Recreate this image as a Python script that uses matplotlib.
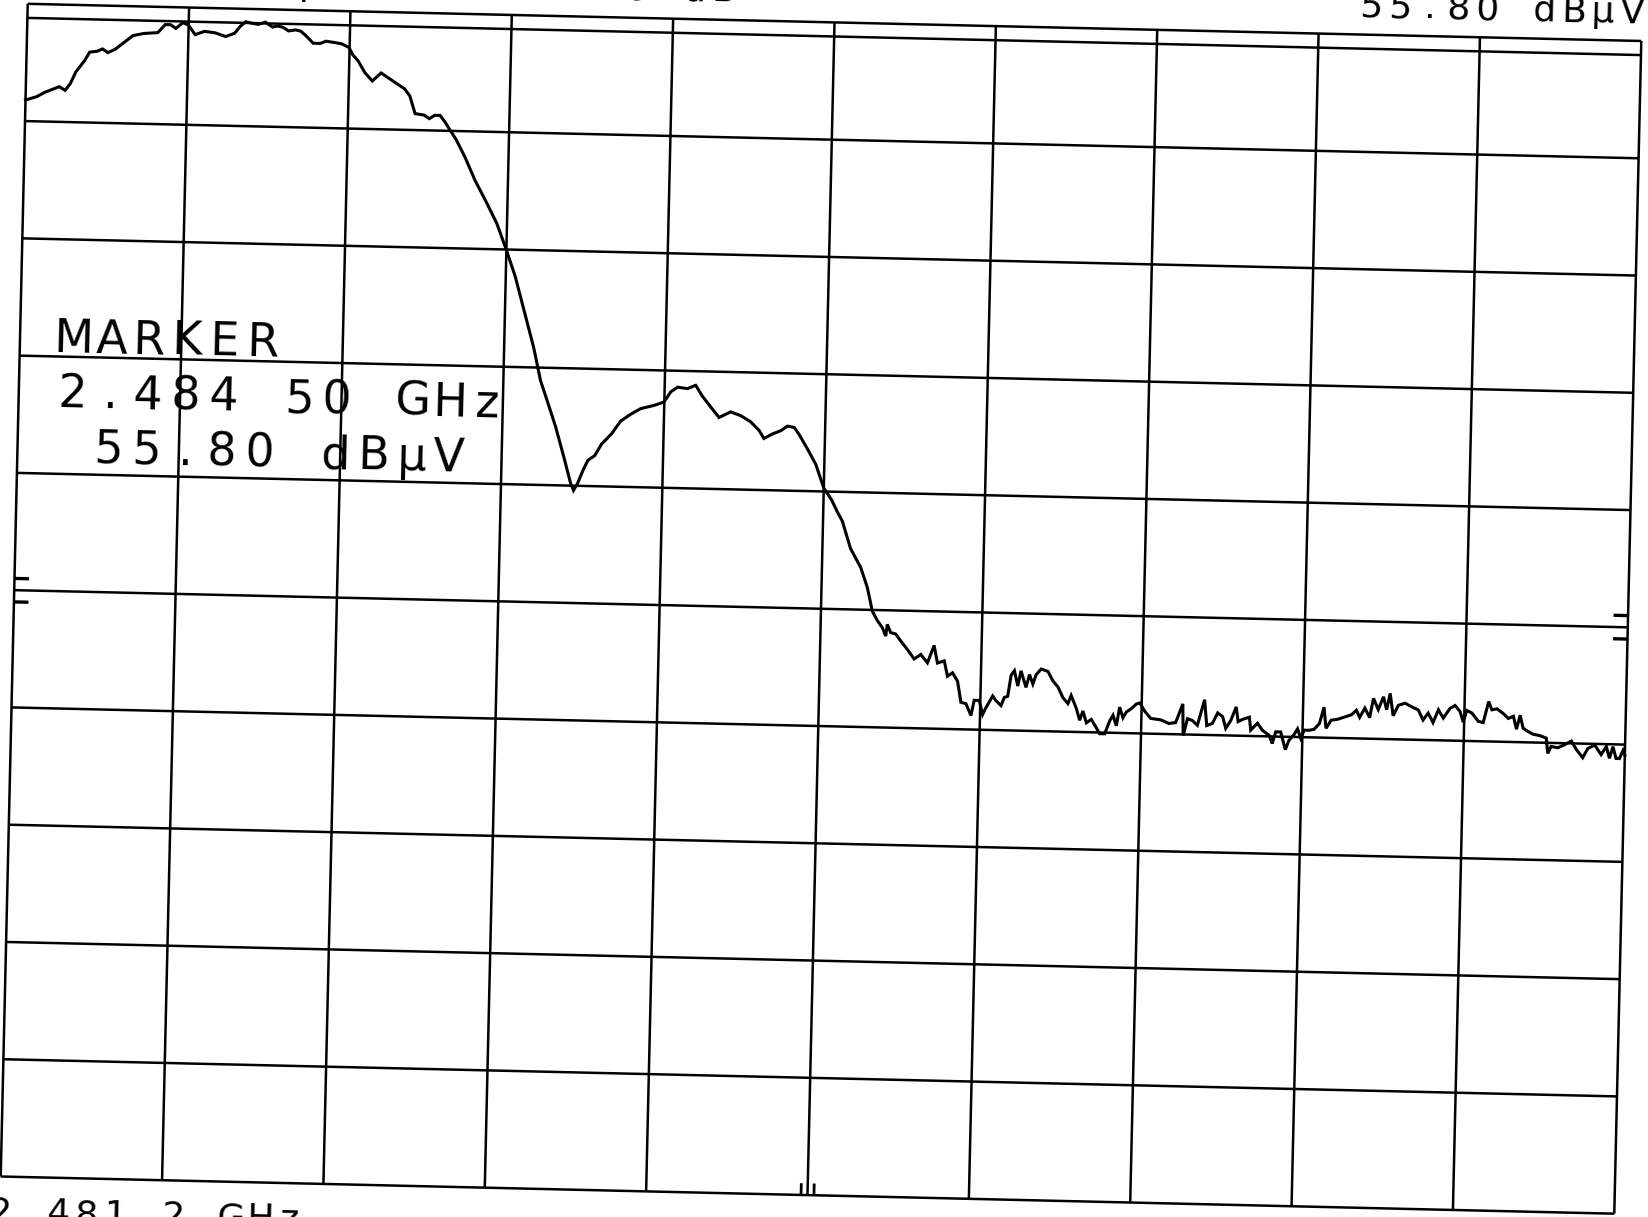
import matplotlib
matplotlib.use('Agg')
import matplotlib.pyplot as plt
from matplotlib.transforms import Affine2D

# graticule of the plot: 10 x 10 divisions, 10 dB/div
ref_level = 57.0          # dBuV at top line
db_per_div = 10
n_div = 10
display_line = 55.8       # dBuV
marker_div = 5            # marker tick position along the bottom edge
tilt = -1.32              # the scanned sheet sits slightly rotated (deg)

# trace: x in divisions from the left edge, level in dBuV
trace_div = [
    0.0, 0.068, 0.12, 0.207, 0.244, 0.276, 0.308, 0.362, 0.39, 0.438, 0.47, 0.504,
    0.548, 0.602, 0.657, 0.723, 0.81, 0.855, 0.888, 0.921, 0.965, 0.998, 1.042, 1.098,
    1.164, 1.231, 1.286, 1.32, 1.353, 1.386, 1.431, 1.475, 1.52, 1.552, 1.585, 1.619,
    1.663, 1.696, 1.73, 1.774, 1.818, 1.853, 1.908, 1.952, 1.997, 2.02, 2.054, 2.098,
    2.145, 2.199, 2.255, 2.3, 2.346, 2.38, 2.415, 2.47, 2.504, 2.537, 2.57, 2.604,
    2.637, 2.672, 2.73, 2.797, 2.865, 2.937, 2.999,
    3.059, 3.127, 3.183, 3.23, 3.274, 3.33, 3.386, 3.431, 3.45, 3.474, 3.505, 3.535,
    3.576, 3.617, 3.678, 3.732, 3.793, 3.854, 3.936, 3.997, 4.039, 4.08, 4.142, 4.192,
    4.234, 4.287, 4.341, 4.412, 4.475, 4.537, 4.59, 4.622, 4.674, 4.726, 4.767, 4.808,
    4.84, 4.893, 4.947, 5.0,
    5.05, 5.087, 5.12, 5.153, 5.174, 5.24, 5.284, 5.318, 5.351, 5.383, 5.405, 5.413,
    5.435, 5.466, 5.499, 5.541, 5.584, 5.625, 5.667, 5.706, 5.729, 5.771, 5.793, 5.824,
    5.856, 5.88, 5.911, 5.944, 5.962, 5.993, 6.016, 6.036, 6.076, 6.097, 6.129, 6.148,
    6.169, 6.187, 6.207, 6.23, 6.248, 6.281, 6.301, 6.323, 6.342, 6.373, 6.415, 6.447,
    6.479, 6.511, 6.543, 6.562, 6.596, 6.618, 6.637, 6.66, 6.69, 6.722, 6.743, 6.775,
    6.804, 6.824, 6.846, 6.864, 6.886, 6.906, 6.937, 6.967, 6.988, 7.02,
    7.058, 7.12, 7.172, 7.213, 7.255, 7.261, 7.286, 7.317, 7.348, 7.389, 7.406, 7.441,
    7.472, 7.503, 7.524, 7.555, 7.586, 7.6, 7.627, 7.669, 7.679, 7.72, 7.752, 7.793,
    7.814, 7.834, 7.865, 7.896, 7.917, 7.948, 7.969, 7.99, 8.01, 8.041, 8.072, 8.104,
    8.13, 8.145, 8.176, 8.217, 8.259, 8.3, 8.331, 8.352, 8.383, 8.414, 8.435, 8.466,
    8.497, 8.518, 8.538, 8.559, 8.59, 8.631, 8.673, 8.714, 8.745, 8.776, 8.807, 8.839,
    8.87, 8.911, 8.942, 8.973, 8.994, 9.014, 9.046, 9.087, 9.118, 9.149, 9.17, 9.201,
    9.242, 9.273, 9.304, 9.325, 9.346, 9.366, 9.387, 9.429, 9.47, 9.511, 9.522, 9.542,
    9.584, 9.615, 9.667, 9.698, 9.739, 9.77, 9.812, 9.853, 9.884, 9.905, 9.925, 9.946,
    9.967, 9.988, 10.0,
]
trace_dbuv = [
    48.8, 49.1, 49.5, 50.0, 49.7, 50.3, 51.3, 52.3, 53.0, 53.1, 53.3, 53.0,
    53.3, 53.9, 54.5, 54.7, 54.8, 55.5, 55.5, 55.2, 55.7, 55.5, 54.7, 55.0,
    54.9, 54.6, 54.9, 55.5, 55.9, 55.8, 55.7, 55.9, 55.5, 55.6, 55.5, 55.2,
    55.3, 55.2, 54.8, 54.2, 54.2, 54.4, 54.3, 54.2, 53.9, 53.3, 52.8, 51.8,
    51.1, 51.8, 51.3, 50.9, 50.5, 49.9, 48.4, 48.3, 48.0, 48.3, 48.3, 47.7,
    47.0, 46.3, 44.8, 42.8, 41.1, 39.2, 37.0,
    34.7, 31.4, 28.7, 25.9, 24.2, 22.0, 19.4, 17.2, 16.6, 17.2, 18.3, 19.2,
    19.6, 20.6, 21.5, 22.6, 23.2, 23.7, 24.0, 24.3, 25.2, 25.6, 25.5, 25.8,
    24.9, 24.0, 23.1, 23.6, 23.3, 22.8, 22.1, 21.4, 21.8, 22.1, 22.5, 22.4,
    21.8, 20.6, 19.3, 17.3,
    16.3, 15.3, 14.5, 13.1, 12.2, 10.6, 8.9, 6.9, 6.1, 5.5, 4.8, 5.8,
    5.1, 5.0, 4.4, 3.7, 2.9, 3.3, 2.6, 4.1, 2.6, 2.8, 1.5, 1.8,
    1.1, -0.7, -0.8, -1.8, -0.5, -0.5, -1.7, -1.1, -0.1, -0.5, -0.9, -0.2,
    -0.1, 1.7, 2.1, 0.8, 2.1, 0.7, 1.8, 1.0, 1.8, 2.3, 2.1, 1.3,
    0.8, -0.1, -0.6, 0.1, -1.0, -2.0, -1.2, -2.2, -1.9, -2.6, -3.1, -3.1,
    -2.0, -1.5, -2.4, -0.8, -1.7, -1.2, -0.9, -0.5, -0.4, -1.1,
    -1.7, -1.8, -2.1, -2.0, -0.4, -3.1, -1.65, -1.8, -2.2, 0.0, -2.2, -2.0,
    -1.1, -1.4, -2.4, -1.7, -0.55, -1.8, -1.6, -1.4, -2.5, -1.9, -2.5, -2.9,
    -3.6, -2.6, -2.6, -4.1, -3.3, -2.8, -2.3, -3.1, -2.4, -2.4, -2.3, -1.8,
    -0.4, -2.2, -1.5, -1.4, -1.2, -1.0, -0.6, -1.2, -0.4, -1.2, 0.45, -0.5,
    0.6, -0.5, 0.9, -1.0, -0.1, 0.1, -0.2, -0.45, -1.3, -0.7, -1.5, -0.4,
    -1.1, -0.25, 0.0, -0.5, -1.4, -0.4, -0.6, -1.3, -1.4, 0.4, -0.3, -0.2,
    -0.6, -1.0, -0.8, -1.9, -0.7, -1.8, -2.0, -2.3, -2.4, -2.6, -3.9, -3.3,
    -3.4, -3.2, -2.8, -3.5, -4.2, -3.4, -3.1, -3.9, -3.2, -4.2, -3.2, -4.2,
    -4.2, -3.5, -3.9,
]

marker_text = ['MARKER', '2.484 50 GHz', ' 55.80 dBμV']
marker_level = ' 55.80 dBμV'     # readout at top right
ref_text = 'REF 57.0 dBμV'       # top left, mostly off the sheet
atten_text = 'ATTEN 10 dB'
start_freq = '2.481 2 GHz'       # bottom left

W, H = 1648, 1217
fig = plt.figure(figsize=(W / 100, H / 100), dpi=100)
fig.patch.set_facecolor('white')

# unrotated graticule box in pixels, then turned by the scan tilt
gw, gh = 1614, 1173
cx, cy = 821, H - 608.75
ax = fig.add_axes([(cx - gw / 2) / W, (cy - gh / 2) / H, gw / W, gh / H])
ax.set_axis_off()
bottom = ref_level - n_div * db_per_div
ax.set_xlim(0, n_div)
ax.set_ylim(bottom, ref_level)
tr = ax.transData + Affine2D().rotate_deg_around(cx, cy, tilt)

line_kw = dict(color='black', transform=tr, clip_on=False, solid_capstyle='butt')

for i in range(n_div + 1):
    ax.plot([i, i], [bottom, ref_level], lw=1.8, **line_kw)
    lev = ref_level - i * db_per_div
    ax.plot([0, n_div], [lev, lev], lw=1.8, **line_kw)

ax.plot([0, n_div], [display_line, display_line], lw=1.8, **line_kw)

# small reference ticks on both sides and at the marker on the bottom edge
mid = ref_level - n_div / 2 * db_per_div
for d in (-1, 1):
    ax.plot([0, 0.09], [mid + d, mid + d], lw=2.4, **line_kw)
    ax.plot([n_div - 0.09, n_div], [mid + d, mid + d], lw=2.4, **line_kw)
    ax.plot([marker_div + d * 0.04] * 2, [bottom, bottom + 1.0], lw=2.0, **line_kw)

ax.plot(trace_div, trace_dbuv, lw=2.2, color='black', transform=tr,
        clip_on=False, solid_joinstyle='miter')


def plotter_text(s, x0, y0, step, size):
    # the plotter puts every character in a fixed cell
    for i, ch in enumerate(s):
        if ch == ' ':
            continue
        ax.text(x0 + i * step, y0, ch, transform=tr, ha='center', va='baseline',
                fontsize=size, rotation=tilt, rotation_mode='anchor',
                family='DejaVu Sans', color='black', clip_on=False)


for k, s in enumerate(marker_text):
    plotter_text(s, 0.332, 27.4 - k * 4.7, 0.234, 33)

plotter_text(marker_level, 8.14, 58.5, 0.18, 26)
plotter_text(ref_text, -0.23, 58.3, 0.18, 26)
plotter_text(atten_text, 2.51, 58.55, 0.18, 26)
plotter_text(start_freq, 0.0, -47.0, 0.179, 26)

fig.savefig('out.png', dpi=100, facecolor='white')
plt.close(fig)
